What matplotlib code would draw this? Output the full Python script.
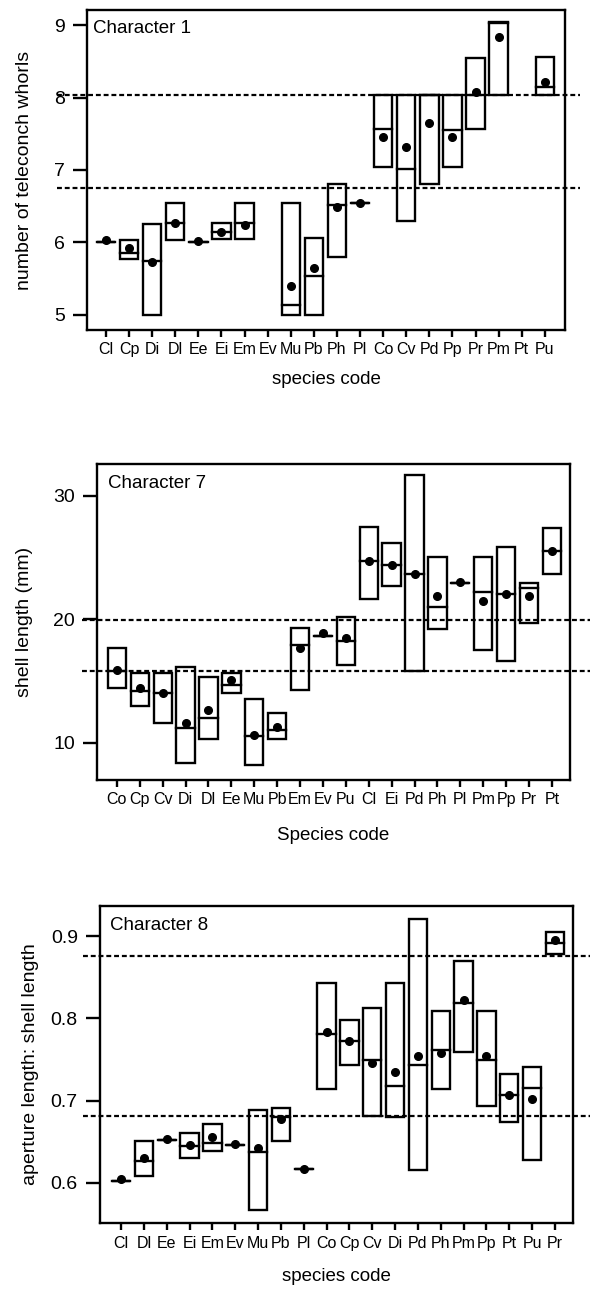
import matplotlib
matplotlib.use("Agg")
import matplotlib.pyplot as plt
import numpy as np

plt.rcParams['font.family'] = ['Liberation Sans', 'DejaVu Sans']

nan = np.nan

# Character 1 - number of teleconch whorls
codes1 = ['Cl', 'Cp', 'Di', 'Dl', 'Ee', 'Ei', 'Em', 'Ev', 'Mu', 'Pb',
          'Ph', 'Pl', 'Co', 'Cv', 'Pd', 'Pp', 'Pr', 'Pm', 'Pt', 'Pu']
lo1 = [6.0, 5.77, 5.0, 6.03, 6.0, 6.04, 6.04, nan, 5.0, 5.0,
       5.8, 6.54, 7.04, 6.29, 6.8, 7.04, 7.56, 8.04, nan, 8.04]
hi1 = [6.0, 6.03, 6.26, 6.54, 6.0, 6.27, 6.54, nan, 6.54, 6.06,
       6.81, 6.54, 8.04, 8.04, 8.04, 8.04, 8.55, 9.05, nan, 8.56]
med1 = [6.0, 5.85, 5.74, 6.27, 6.0, 6.15, 6.27, nan, 5.14, 5.54,
        6.52, 6.54, 7.56, 7.02, 8.04, 7.55, 8.04, 9.03, nan, 8.14]
mean1 = [6.03, 5.92, 5.73, 6.27, 6.02, 6.15, 6.24, nan, 5.4, 5.64,
         6.49, 6.55, 7.46, 7.32, 7.65, 7.46, 8.07, 8.83, nan, 8.22]
ref1 = [8.04, 6.75]

# Character 7 - shell length (mm)
codes7 = ['Co', 'Cp', 'Cv', 'Di', 'Dl', 'Ee', 'Mu', 'Pb', 'Em', 'Ev',
          'Pu', 'Cl', 'Ei', 'Pd', 'Ph', 'Pl', 'Pm', 'Pp', 'Pr', 'Pt']
lo7 = [14.4, 12.97, 11.57, 8.38, 10.27, 14.05, 8.2, 10.27, 14.27, 18.65,
       16.3, 21.65, 22.65, 15.8, 19.19, 22.92, 17.5, 16.62, 19.68, 23.65]
hi7 = [17.65, 15.62, 15.6, 16.1, 15.35, 15.6, 13.5, 12.38, 19.27, 18.65,
       20.16, 27.46, 26.16, 31.7, 25.03, 22.92, 25.03, 25.81, 22.92, 27.35]
med7 = [15.76, 14.14, 14.0, 11.16, 11.97, 14.68, 10.54, 11.03, 17.9, 18.65,
        18.19, 24.68, 24.35, 23.65, 20.95, 22.92, 22.16, 22.05, 22.5, 25.49]
mean7 = [15.9, 14.4, 14.05, 11.57, 12.65, 15.08, 10.6, 11.3, 17.65, 18.86,
         18.46, 24.68, 24.4, 23.65, 21.84, 23.0, 21.43, 22.05, 21.84, 25.49]
ref7 = [19.95, 15.76]

# Character 8 - aperture length : shell length
codes8 = ['Cl', 'Dl', 'Ee', 'Ei', 'Em', 'Ev', 'Mu', 'Pb', 'Pl', 'Co',
          'Cp', 'Cv', 'Di', 'Pd', 'Ph', 'Pm', 'Pp', 'Pt', 'Pu', 'Pr']
lo8 = [0.602, 0.608, 0.652, 0.630, 0.639, 0.646, 0.567, 0.651, 0.617, 0.714,
       0.743, 0.681, 0.680, 0.616, 0.714, 0.759, 0.693, 0.674, 0.628, 0.878]
hi8 = [0.602, 0.651, 0.652, 0.660, 0.671, 0.646, 0.689, 0.691, 0.617, 0.843,
       0.798, 0.813, 0.843, 0.921, 0.809, 0.870, 0.809, 0.732, 0.741, 0.905]
med8 = [0.602, 0.626, 0.652, 0.645, 0.649, 0.646, 0.638, 0.680, 0.617, 0.781,
        0.772, 0.750, 0.718, 0.743, 0.762, 0.819, 0.750, 0.707, 0.715, 0.892]
mean8 = [0.605, 0.630, 0.653, 0.646, 0.656, 0.647, 0.642, 0.678, 0.617, 0.784,
         0.772, 0.746, 0.735, 0.754, 0.758, 0.823, 0.754, 0.707, 0.702, 0.895]
ref8 = [0.876, 0.681]

panels = [
    dict(codes=codes1, lo=lo1, hi=hi1, med=med1, mean=mean1, ref=ref1,
         title='Character 1', ylabel='number of teleconch whorls', xlabel='species code',
         ylim=(4.79, 9.21), yticks=[5, 6, 7, 8, 9], yfmt='%d',
         rect=[0.1475, 0.7446, 0.810, 0.2477], xlim=(0.18, 20.87), dash_x=(-0.063, 1.031),
         title_xy=(0.013, 0.969), ylab_x=-0.113, xlab_y=-0.128),
    dict(codes=codes7, lo=lo7, hi=hi7, med=med7, mean=mean7, ref=ref7,
         title='Character 7', ylabel='shell length (mm)', xlabel='Species code',
         ylim=(6.97, 32.57), yticks=[10, 20, 30], yfmt='%d',
         rect=[0.1644, 0.3963, 0.8017, 0.2446], xlim=(0.13, 20.79), dash_x=(-0.032, 1.042),
         title_xy=(0.023, 0.965), ylab_x=-0.135, xlab_y=-0.149),
    dict(codes=codes8, lo=lo8, hi=hi8, med=med8, mean=mean8, ref=ref8,
         title='Character 8', ylabel='aperture length: shell length', xlabel='species code',
         ylim=(0.551, 0.937), yticks=[0.6, 0.7, 0.8, 0.9], yfmt='%.1f',
         rect=[0.1695, 0.0534, 0.8017, 0.2454], xlim=(0.08, 20.79), dash_x=(-0.036, 1.036),
         title_xy=(0.021, 0.965), ylab_x=-0.129, xlab_y=-0.142),
]

fig = plt.figure(figsize=(5.9, 12.92), dpi=100)
bw = 0.8

for p in panels:
    ax = fig.add_axes(p['rect'])
    x = np.arange(1, len(p['codes']) + 1)
    for i in range(len(x)):
        lo, hi, md, mn = p['lo'][i], p['hi'][i], p['med'][i], p['mean'][i]
        if np.isnan(lo):
            continue
        ax.add_patch(plt.Rectangle((x[i] - bw / 2, lo), bw, hi - lo,
                                   fill=False, edgecolor='black', linewidth=1.7))
        ax.plot([x[i] - bw / 2, x[i] + bw / 2], [md, md], color='black', linewidth=1.7)
        ax.plot(x[i], mn, 'o', color='black', markersize=5.5)
    # reference lines (run across and outside the frame)
    trans = ax.get_yaxis_transform()
    for r in p['ref']:
        ax.plot(p['dash_x'], [r, r], transform=trans, color='black',
                linewidth=1.6, linestyle=(0, (2.2, 1.3)), clip_on=False)
    ax.set_xlim(p['xlim'])
    ax.set_ylim(p['ylim'])
    ax.set_xticks(x)
    ax.set_xticklabels(p['codes'], fontsize=11.5)
    ax.set_yticks(p['yticks'])
    ax.set_yticklabels([p['yfmt'] % v for v in p['yticks']], fontsize=14)
    ax.tick_params(axis='y', length=10, width=1.7, pad=6)
    ax.tick_params(axis='x', length=5, width=1.7, pad=4)
    for s in ax.spines.values():
        s.set_linewidth(1.7)
    ax.set_ylabel(p['ylabel'], fontsize=14)
    ax.set_xlabel(p['xlabel'], fontsize=13.5)
    ax.yaxis.set_label_coords(p['ylab_x'], 0.5)
    ax.xaxis.set_label_coords(0.5, p['xlab_y'])
    ax.text(p['title_xy'][0], p['title_xy'][1], p['title'], transform=ax.transAxes,
            ha='left', va='top', fontsize=13.5)

fig.savefig('out.png', dpi=100)
